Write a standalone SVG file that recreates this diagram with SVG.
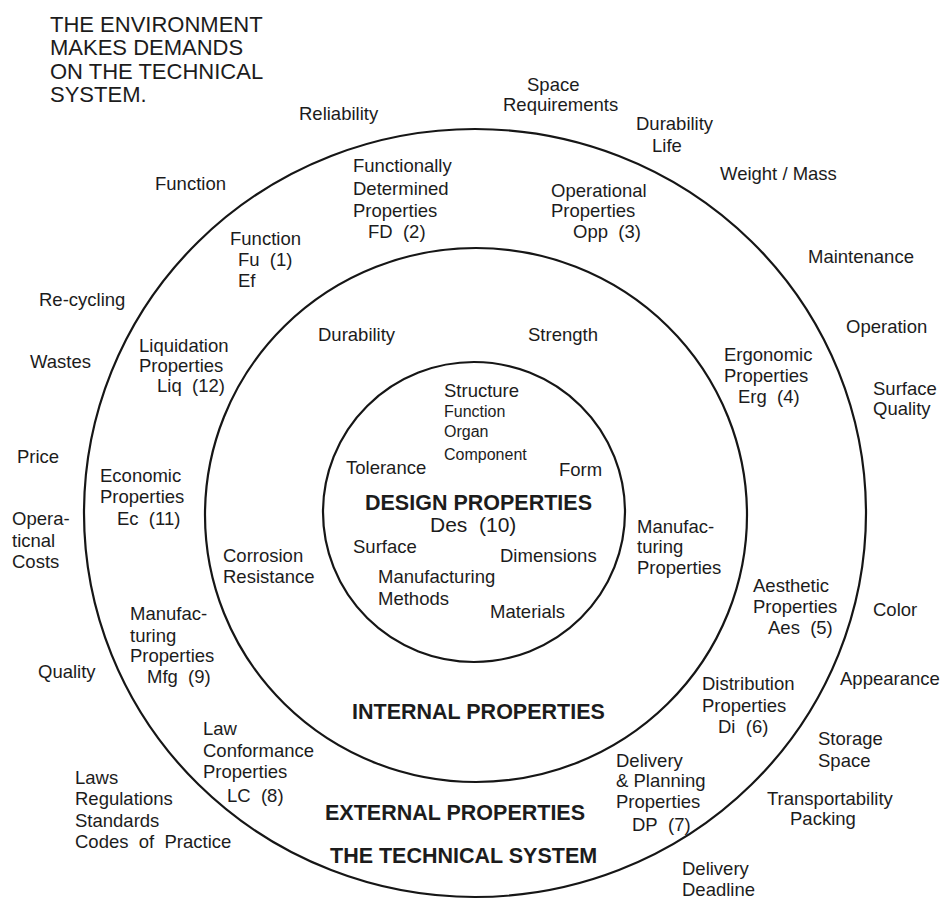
<svg xmlns="http://www.w3.org/2000/svg" width="943" height="899" viewBox="0 0 943 899">
  <style>
    text { font-family: "Liberation Sans", Arial, Helvetica, sans-serif; fill: #1c1c1c; }
    .lbl { font-size: 18.5px; }
    .sm { font-size: 16px; }
    .title { font-size: 22px; }
    .head { font-size: 21.5px; font-weight: bold; }
    .des { font-size: 21px; }
    .ring { fill: none; stroke: #161616; stroke-width: 2.2; }
  </style>
  <rect width="943" height="899" fill="#ffffff"/>

  <!-- concentric boundaries -->
  <g id="rings">
    <ellipse id="ring-outer" class="ring" cx="475" cy="513" rx="391" ry="384"/>
    <ellipse id="ring-middle" class="ring" cx="476" cy="515" rx="271" ry="267"/>
    <ellipse id="ring-inner" class="ring" cx="474" cy="512" rx="151" ry="150"/>
  </g>

  <!-- heading -->
  <g id="heading">
    <text class="title">
      <tspan x="50" y="32">THE ENVIRONMENT</tspan>
      <tspan x="50" y="55">MAKES DEMANDS</tspan>
      <tspan x="50" y="79">ON THE TECHNICAL</tspan>
      <tspan x="50" y="102">SYSTEM.</tspan>
    </text>
  </g>

  <!-- demands of the environment (outside the outer ring) -->
  <g id="environment">
    <text class="lbl" x="299" y="120">Reliability</text>
    <text class="lbl"><tspan x="527" y="91">Space</tspan><tspan x="503" y="111">Requirements</tspan></text>
    <text class="lbl"><tspan x="636" y="130">Durability</tspan><tspan x="652" y="152">Life</tspan></text>
    <text class="lbl" x="720" y="180">Weight / Mass</text>
    <text class="lbl" x="808" y="263">Maintenance</text>
    <text class="lbl" x="846" y="333">Operation</text>
    <text class="lbl"><tspan x="873" y="395">Surface</tspan><tspan x="873" y="415">Quality</tspan></text>
    <text class="lbl" x="873" y="616">Color</text>
    <text class="lbl" x="840" y="685">Appearance</text>
    <text class="lbl"><tspan x="818" y="745">Storage</tspan><tspan x="818" y="767">Space</tspan></text>
    <text class="lbl"><tspan x="767" y="805">Transportability</tspan><tspan x="790" y="825">Packing</tspan></text>
    <text class="lbl"><tspan x="682" y="875">Delivery</tspan><tspan x="682" y="896">Deadline</tspan></text>
    <text class="lbl" x="155" y="190">Function</text>
    <text class="lbl" x="39" y="306">Re-cycling</text>
    <text class="lbl" x="30" y="368">Wastes</text>
    <text class="lbl" x="17" y="463">Price</text>
    <text class="lbl"><tspan x="12" y="525">Opera-</tspan><tspan x="12" y="547">ticnal</tspan><tspan x="12" y="568">Costs</tspan></text>
    <text class="lbl" x="38" y="678">Quality</text>
    <text class="lbl"><tspan x="75" y="784">Laws</tspan><tspan x="75" y="805">Regulations</tspan><tspan x="75" y="827">Standards</tspan><tspan x="75" y="848">Codes&#160; of&#160; Practice</tspan></text>
  </g>

  <!-- external property classes (between outer and middle ring) -->
  <g id="external">
    <g id="fu"><text class="lbl"><tspan x="230" y="245">Function</tspan><tspan x="238" y="266">Fu&#160; (1)</tspan><tspan x="238" y="287">Ef</tspan></text></g>
    <g id="fd"><text class="lbl"><tspan x="353" y="172">Functionally</tspan><tspan x="353" y="195">Determined</tspan><tspan x="353" y="217">Properties</tspan><tspan x="368" y="238">FD&#160; (2)</tspan></text></g>
    <g id="opp"><text class="lbl"><tspan x="551" y="197">Operational</tspan><tspan x="551" y="217">Properties</tspan><tspan x="573" y="238">Opp&#160; (3)</tspan></text></g>
    <g id="erg"><text class="lbl"><tspan x="724" y="361">Ergonomic</tspan><tspan x="724" y="382">Properties</tspan><tspan x="738" y="403">Erg&#160; (4)</tspan></text></g>
    <g id="aes"><text class="lbl"><tspan x="753" y="592">Aesthetic</tspan><tspan x="753" y="613">Properties</tspan><tspan x="768" y="634">Aes&#160; (5)</tspan></text></g>
    <g id="di"><text class="lbl"><tspan x="702" y="690">Distribution</tspan><tspan x="702" y="712">Properties</tspan><tspan x="718" y="733">Di&#160; (6)</tspan></text></g>
    <g id="dp"><text class="lbl"><tspan x="616" y="767">Delivery</tspan><tspan x="616" y="787">&amp; Planning</tspan><tspan x="616" y="808">Properties</tspan><tspan x="632" y="831">DP&#160; (7)</tspan></text></g>
    <g id="lc"><text class="lbl"><tspan x="203" y="735">Law</tspan><tspan x="203" y="757">Conformance</tspan><tspan x="203" y="778">Properties</tspan><tspan x="227" y="802">LC&#160; (8)</tspan></text></g>
    <g id="mfg"><text class="lbl"><tspan x="130" y="620">Manufac-</tspan><tspan x="130" y="642">turing</tspan><tspan x="130" y="662">Properties</tspan><tspan x="147" y="683">Mfg&#160; (9)</tspan></text></g>
    <g id="ec"><text class="lbl"><tspan x="100" y="482">Economic</tspan><tspan x="100" y="503">Properties</tspan><tspan x="117" y="525">Ec&#160; (11)</tspan></text></g>
    <g id="liq"><text class="lbl"><tspan x="139" y="352">Liquidation</tspan><tspan x="139" y="372">Properties</tspan><tspan x="157" y="392">Liq&#160; (12)</tspan></text></g>
    <text class="head" x="325" y="820">EXTERNAL PROPERTIES</text>
    <text class="head" x="330" y="863">THE TECHNICAL SYSTEM</text>
  </g>

  <!-- internal properties (between middle and inner ring) -->
  <g id="internal">
    <text class="lbl" x="318" y="341">Durability</text>
    <text class="lbl" x="528" y="341">Strength</text>
    <text class="lbl"><tspan x="223" y="562">Corrosion</tspan><tspan x="223" y="583">Resistance</tspan></text>
    <text class="lbl"><tspan x="637" y="533">Manufac-</tspan><tspan x="637" y="553">turing</tspan><tspan x="637" y="574">Properties</tspan></text>
    <text class="head" x="352" y="719">INTERNAL PROPERTIES</text>
  </g>

  <!-- design properties (inner ring) -->
  <g id="design">
    <text class="lbl" x="444" y="397">Structure</text>
    <text class="sm"><tspan x="444" y="417">Function</tspan><tspan x="444" y="437">Organ</tspan><tspan x="444" y="460">Component</tspan></text>
    <text class="lbl" x="346" y="474">Tolerance</text>
    <text class="lbl" x="559" y="476">Form</text>
    <text class="head" x="365" y="510">DESIGN PROPERTIES</text>
    <text class="des" x="430" y="532">Des&#160; (10)</text>
    <text class="lbl" x="353" y="553">Surface</text>
    <text class="lbl" x="500" y="562">Dimensions</text>
    <text class="lbl"><tspan x="378" y="583">Manufacturing</tspan><tspan x="378" y="605">Methods</tspan></text>
    <text class="lbl" x="490" y="618">Materials</text>
  </g>
</svg>
